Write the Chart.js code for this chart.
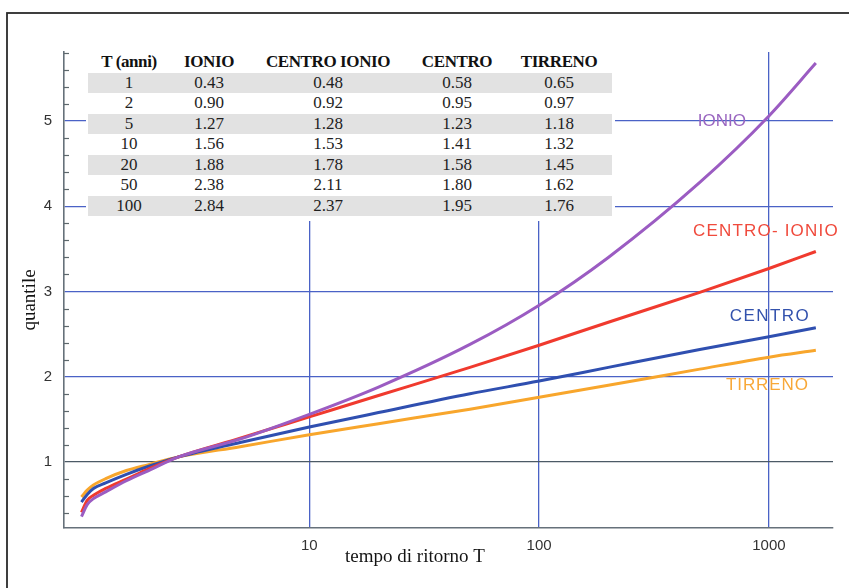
<!DOCTYPE html>
<html>
<head>
<meta charset="utf-8">
<script src="https://cdn.jsdelivr.net/npm/chart.js@4.4.1/dist/chart.umd.min.js"></script>
<style>
  html, body { margin: 0; padding: 0; background: #fff; }
  #wrap { position: relative; width: 849px; height: 588px; overflow: hidden; }
  #tbl { position: absolute; left: 86px; top: 48px; width: 529px; height: 173px; background: #fff; }
  #tbl table { position: absolute; left: 2px; top: 4px; width: 524px; border-collapse: collapse; table-layout: fixed;
    font-family: 'Liberation Serif', 'Times New Roman', serif; font-size: 17px; color: #1e1e1e; }
  #tbl th, #tbl td { padding: 0; text-align: center; white-space: nowrap; }
  #tbl th { height: 20.7px; line-height: 20.7px; font-weight: bold; letter-spacing: -0.4px; color: #111; }
  #tbl td { height: 20.5px; line-height: 20.5px; }
  #tbl tr.g td { background: #e2e2e2; }
</style>
</head>
<body>
<div id="wrap">
  <canvas id="myChart" width="849" height="588"></canvas>
  <div id="tbl"></div>
</div>
<script>
// return period T (anni) where the curves were read
const returnT = [1.02, 1.08, 1.15, 1.3, 1.6, 2, 2.7, 5, 10, 20, 50, 100, 200, 500, 1000, 1600];
const ionio       = [0.36, 0.50, 0.57, 0.65, 0.78, 0.90, 1.06, 1.27, 1.56, 1.88, 2.38, 2.84, 3.40, 4.28, 5.06, 5.68];
const centroIonio = [0.41, 0.55, 0.61, 0.69, 0.80, 0.92, 1.06, 1.28, 1.53, 1.78, 2.11, 2.37, 2.64, 2.99, 3.27, 3.47];
const centro      = [0.53, 0.62, 0.69, 0.755, 0.855, 0.95, 1.06, 1.23, 1.41, 1.58, 1.80, 1.95, 2.11, 2.32, 2.47, 2.575];
const tirreno     = [0.59, 0.67, 0.73, 0.805, 0.90, 0.97, 1.06, 1.18, 1.32, 1.45, 1.62, 1.76, 1.90, 2.09, 2.23, 2.31];

// table in the top left corner
const tableHead = ['T (anni)', 'IONIO', 'CENTRO IONIO', 'CENTRO', 'TIRRENO'];
const tableT = [1, 2, 5, 10, 20, 50, 100];
const tabIonio = [0.43, 0.90, 1.27, 1.56, 1.88, 2.38, 2.84];
const tabCentroIonio = [0.48, 0.92, 1.28, 1.53, 1.78, 2.11, 2.37];
const tabCentro = [0.58, 0.95, 1.23, 1.41, 1.58, 1.80, 1.95];
const tabTirreno = [0.65, 0.97, 1.18, 1.32, 1.45, 1.62, 1.76];

const xTicks = [10, 100, 1000];
const yTicks = [1, 2, 3, 4, 5];

const colors = { ionio: '#9b5cc2', centroIonio: '#f03a2e', centro: '#2f4fb0', tirreno: '#f8a62c' };

// build the table
const colW = [82, 78, 160, 98, 106];
let html = '<table><colgroup>' + colW.map(w => '<col style="width:' + w + 'px">').join('') + '</colgroup>';
html += '<tr>' + tableHead.map(h => '<th>' + h + '</th>').join('') + '</tr>';
tableT.forEach((t, i) => {
  html += '<tr class="' + (i % 2 === 0 ? 'g' : '') + '"><td>' + t + '</td><td>' + tabIonio[i].toFixed(2) +
    '</td><td>' + tabCentroIonio[i].toFixed(2) + '</td><td>' + tabCentro[i].toFixed(2) +
    '</td><td>' + tabTirreno[i].toFixed(2) + '</td></tr>';
});
html += '</table>';
document.getElementById('tbl').innerHTML = html;

const pts = (arr) => returnT.map((t, i) => ({ x: t, y: arr[i] }));

const curveLabels = [
  { text: 'IONIO', x: 624, y: 5.0, color: '#9a66c0', spacing: 0 },
  { text: 'CENTRO- IONIO', x: 970, y: 3.71, color: '#f04a3c', spacing: 1.2 },
  { text: 'CENTRO', x: 1010, y: 2.71, color: '#3352ad', spacing: 1.4 },
  { text: 'TIRRENO', x: 985, y: 1.90, color: '#f8a838', spacing: 0.9 }
];

const decorations = {
  id: 'decorations',
  afterDatasetsDraw(chart) {
    const { ctx, chartArea, scales: { x, y } } = chart;
    ctx.save();
    // minor ticks on the y axis
    ctx.strokeStyle = '#5d686c';
    ctx.lineWidth = 1.2;
    for (let v = 0.4; v < 5.85; v += 0.2) {
      const r = Math.round(v * 10) / 10;
      if (Number.isInteger(r)) continue;
      const py = Math.round(y.getPixelForValue(r)) + 0.5;
      ctx.beginPath();
      ctx.moveTo(chartArea.left, py);
      ctx.lineTo(chartArea.left + 5, py);
      ctx.stroke();
    }
    // curve labels
    ctx.font = '17px "Liberation Sans", Arial, sans-serif';
    ctx.textAlign = 'center';
    ctx.textBaseline = 'middle';
    curveLabels.forEach(l => {
      ctx.fillStyle = l.color;
      ctx.letterSpacing = l.spacing + 'px';
      ctx.fillText(l.text, x.getPixelForValue(l.x), y.getPixelForValue(l.y));
    });
    ctx.letterSpacing = '0px';
    // axis titles
    ctx.fillStyle = '#141414';
    ctx.font = '19px "Liberation Serif", "Times New Roman", serif';
    ctx.fillText('tempo di ritorno T', 415, 557);
    ctx.translate(30, 300);
    ctx.rotate(-Math.PI / 2);
    ctx.fillText('quantile', 0, 0);
    ctx.restore();
    // outer frame
    ctx.save();
    ctx.strokeStyle = '#2b2b2b';
    ctx.lineWidth = 1.8;
    ctx.strokeRect(7, 13, 900, 700);
    ctx.restore();
  }
};

const ctx = document.getElementById('myChart').getContext('2d');
new Chart(ctx, {
  type: 'line',
  data: {
    datasets: [
      { label: 'IONIO', data: pts(ionio), borderColor: colors.ionio },
      { label: 'CENTRO-IONIO', data: pts(centroIonio), borderColor: colors.centroIonio },
      { label: 'CENTRO', data: pts(centro), borderColor: colors.centro },
      { label: 'TIRRENO', data: pts(tirreno), borderColor: colors.tirreno }
    ].map(d => Object.assign(d, { borderWidth: 3, pointRadius: 0, cubicInterpolationMode: 'monotone', fill: false }))
  },
  options: {
    responsive: false,
    animation: false,
    layout: { padding: { top: 52, right: 16, left: 0, bottom: 0 } },
    plugins: { legend: { display: false }, tooltip: { enabled: false } },
    scales: {
      x: {
        type: 'logarithmic',
        min: 0.856,
        max: 1900,
        afterBuildTicks: (axis) => { axis.ticks = xTicks.map(v => ({ value: v })); },
        afterFit: (axis) => { axis.height = 60; },
        ticks: {
          callback: (v) => String(v),
          font: { family: '"Liberation Sans", Arial, sans-serif', size: 15 },
          color: '#333',
          padding: 9,
          maxRotation: 0
        },
        grid: { color: '#4a62c6', lineWidth: 1.3, drawTicks: false },
        border: { color: '#66717a', width: 1.6 }
      },
      y: {
        min: 0.226,
        max: 5.81,
        afterBuildTicks: (axis) => { axis.ticks = yTicks.map(v => ({ value: v })); },
        afterFit: (axis) => { axis.width = 64; },
        ticks: {
          callback: (v) => String(v),
          font: { family: '"Liberation Sans", Arial, sans-serif', size: 15 },
          color: '#333',
          padding: 12
        },
        grid: {
          color: (c) => (c.tick && c.tick.value === 1 ? '#4c5a66' : '#4a62c6'),
          lineWidth: 1.3,
          drawTicks: false
        },
        border: { color: '#66717a', width: 1.6 }
      }
    }
  },
  plugins: [decorations]
});
</script>
</body>
</html>
